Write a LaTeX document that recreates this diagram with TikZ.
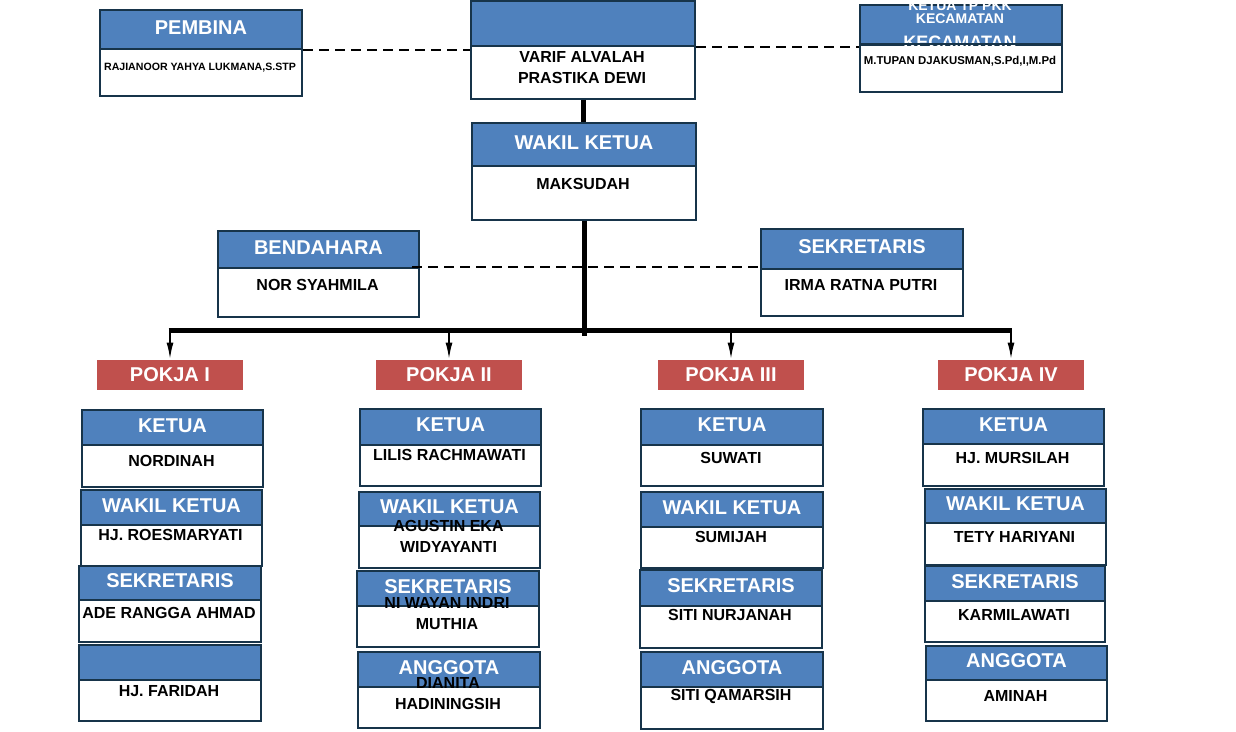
\documentclass[tikz,border=0pt]{standalone}
\usepackage{fontspec}
\setmainfont{Liberation Sans}
\usepackage{tikz}
\usetikzlibrary{arrows.meta, positioning}

\definecolor{headblue}{RGB}{79,129,189}
\definecolor{cardline}{RGB}{23,52,74}
\definecolor{pokjared}{RGB}{192,80,77}

\tikzset{
  cardhead/.style={draw=cardline, line width=1pt, fill=headblue, inner sep=0pt},
  cardbody/.style={draw=cardline, line width=1pt, fill=white, inner sep=0pt},
  headtext/.style={text=white, inner sep=0pt, font=\bfseries\fontsize{10}{12}\selectfont},
  persontext/.style={align=center, inner sep=0pt, font=\bfseries\fontsize{8}{10.5}\selectfont},
  pokja/.style={fill=pokjared, text=white, inner sep=0pt, minimum width=73pt, minimum height=15pt,
                font=\bfseries\fontsize{10}{12}\selectfont},
  dashline/.style={line width=1pt, dash pattern=on 5pt off 3pt},
  trunk/.style={line width=2.5pt},
  branch/.style={line width=1pt, -{Latex[length=8.5pt,width=3.5pt]}}
}

% card: name, x1, y1, y split, x2, y2, title, names, y of names
\newcommand{\orgcard}[9]{%
  \node[cardhead, minimum width={(#5-#2)*0.5pt}, minimum height={(#4-#3)*0.5pt}, anchor=north west] (#1h) at (#2,#3) {};
  \node[cardbody, minimum width={(#5-#2)*0.5pt}, minimum height={(#6-#4)*0.5pt}, anchor=north west] (#1b) at (#2,#4) {};
  \node[headtext, yshift=1pt] (#1t) at (#1h.center) {#7};
  \node[persontext] (#1n) at ({(#2+#5)/2},#9) {#8};
}

\begin{document}
\begin{tikzpicture}[x=0.5pt, y=-0.5pt]
  \useasboundingbox (0,0) rectangle (1236,732);

  % top
  \orgcard{pem}{99}{9}{48}{301}{95}{PEMBINA}{\fontsize{5.3}{6}\selectfont RAJIANOOR YAHYA LUKMANA,S.STP}{68}
  \orgcard{ket}{470}{0}{45}{694}{98}{}{VARIF ALVALAH\\PRASTIKA DEWI}{67.5}
  \orgcard{tpk}{859}{4}{44}{1061}{91}{}{\fontsize{5.7}{6}\selectfont M.TUPAN DJAKUSMAN,S.Pd,I,M.Pd}{61}
  \node[headtext, font=\bfseries\fontsize{7}{8}\selectfont] (tpk1) at (960,6) {KETUA TP PKK};
  \node[headtext, font=\bfseries\fontsize{7}{8}\selectfont] (tpk2) at (960,19) {KECAMATAN};
  \node[headtext, font=\bfseries\fontsize{9}{10}\selectfont] (tpk3) at (960,42) {KECAMATAN};
  \draw[cardline, line width=1pt] (tpkb.north west) -- (tpkb.north east);

  \orgcard{wak}{471}{122}{165}{695}{219}{WAKIL KETUA}{MAKSUDAH}{184}
  \orgcard{ben}{217}{230}{267}{418}{316}{BENDAHARA}{NOR SYAHMILA}{285}
  \orgcard{sek}{760}{228}{268}{962}{315}{SEKRETARIS}{IRMA RATNA PUTRI}{285}

  \draw[dashline] (pemh.south east) -- (pemh.south east -| keth.west);
  \draw[dashline] (keth.south east) -- (keth.south east -| tpkh.west);
  \draw[dashline] ([xshift=-4pt,yshift=1pt]benh.south east) -- ([yshift=1pt]benh.south east -| sekh.west);

  % pokja
  \node[pokja] (pk1) at (170,375) {POKJA I};
  \node[pokja] (pk2) at (449,375) {POKJA II};
  \node[pokja] (pk3) at (731,375) {POKJA III};
  \node[pokja] (pk4) at (1011,375) {POKJA IV};

  \coordinate (bar) at (583,331);
  \draw[trunk] (ketb.south) -- (ketb.south |- wakh.north);
  \draw[trunk] (wakb.south) -- ([yshift=-2.5pt]wakb.south |- bar);
  \draw[trunk] ([xshift=-0.7pt]pk1.north |- bar) -- ([xshift=0.7pt]pk4.north |- bar);
  \draw[branch] (pk1.north |- bar) -- (pk1.north);
  \draw[branch] (pk2.north |- bar) -- (pk2.north);
  \draw[branch] (pk3.north |- bar) -- (pk3.north);
  \draw[branch] (pk4.north |- bar) -- (pk4.north);

  % pokja I
  \orgcard{aK}{81}{409}{444}{262}{486}{KETUA}{NORDINAH}{461}
  \orgcard{aW}{80}{489}{524}{261}{565}{WAKIL KETUA}{HJ. ROESMARYATI}{535}
  \orgcard{aS}{78}{565}{599}{260}{641}{SEKRETARIS}{ADE RANGGA AHMAD}{613}
  \orgcard{aA}{78}{644}{679}{260}{720}{}{HJ. FARIDAH}{691}
  % pokja II
  \orgcard{bK}{359}{408}{444}{540}{485}{KETUA}{LILIS RACHMAWATI}{455}
  \orgcard{bW}{358}{491}{525}{539}{567}{WAKIL KETUA}{AGUSTIN EKA\\WIDYAYANTI}{536.5}
  \orgcard{bS}{356}{570}{605}{538}{646}{SEKRETARIS}{NI WAYAN INDRI\\MUTHIA}{613.5}
  \orgcard{bA}{357}{651}{686}{539}{727}{ANGGOTA}{DIANITA\\HADININGSIH}{693.5}
  % pokja III
  \orgcard{cK}{640}{408}{444}{822}{485}{KETUA}{SUWATI}{458}
  \orgcard{cW}{640}{491}{526}{822}{567}{WAKIL KETUA}{SUMIJAH}{537}
  \orgcard{cS}{639}{569}{605}{821}{647}{SEKRETARIS}{SITI NURJANAH}{615}
  \orgcard{cA}{640}{651}{686}{822}{728}{ANGGOTA}{SITI QAMARSIH}{696}
  % pokja IV
  \orgcard{dK}{922}{408}{443}{1103}{485}{KETUA}{HJ. MURSILAH}{458}
  \orgcard{dW}{924}{488}{522}{1105}{564}{WAKIL KETUA}{TETY HARIYANI}{537}
  \orgcard{dS}{924}{565}{600}{1104}{641}{SEKRETARIS}{KARMILAWATI}{615}
  \orgcard{dA}{925}{645}{679}{1106}{720}{ANGGOTA}{AMINAH}{696}
\end{tikzpicture}
\end{document}
